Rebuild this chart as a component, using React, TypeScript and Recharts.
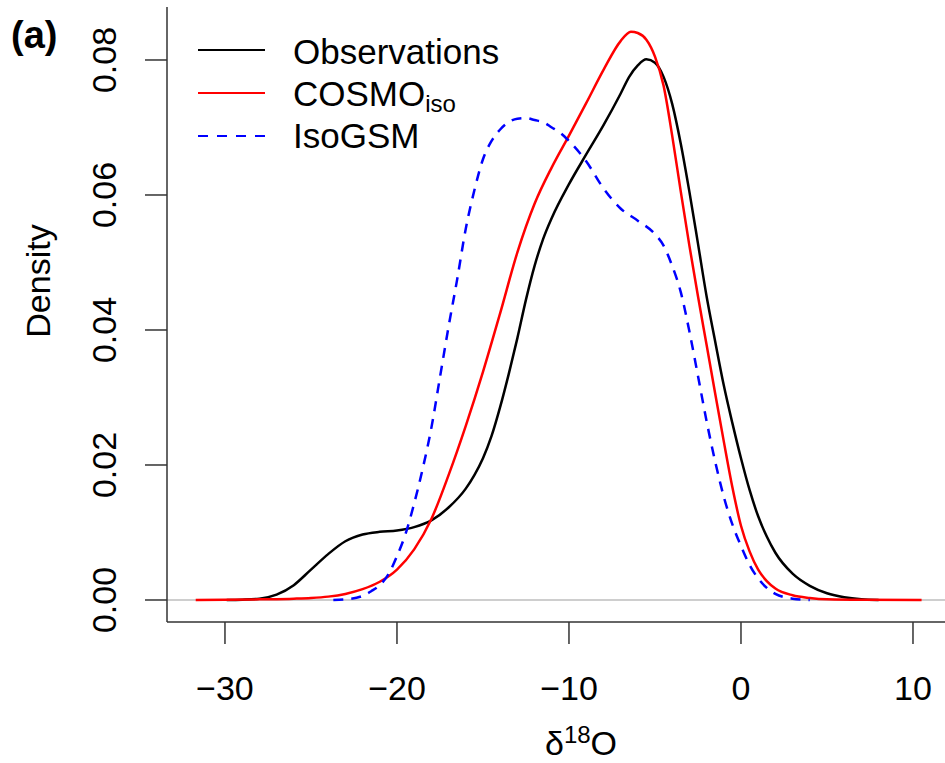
import { LineChart, Line, XAxis, YAxis, ReferenceLine } from 'recharts';

const FONT = '"Liberation Sans", Arial, Helvetica, sans-serif';

const COLORS = {
  obs: '#000000',
  cosmo: '#FF0000',
  isogsm: '#0000FF',
  frame: '#333333',
  zero: '#BEBEBE',
};

// δ18O grid + density values, one pair of lists per curve
const obsX = [-29.9, -29, -28, -27, -26, -25, -24, -23, -22, -21, -20, -19, -18, -17, -16, -15.5, -15, -14.5, -14, -13.5, -13, -12.5, -12, -11.5, -11, -10, -9, -8, -7, -6.5, -6, -5.5, -5, -4.5, -4, -3.5, -3, -2.5, -2, -1.5, -1, -0.5, 0, 0.5, 1, 1.5, 2, 3, 4, 5, 6, 7, 8];
const obsY = [0, 0.00005, 0.0002, 0.0008, 0.0022, 0.0045, 0.0068, 0.0087, 0.0097, 0.0101, 0.0103, 0.0108, 0.0118, 0.0137, 0.0165, 0.0185, 0.021, 0.0243, 0.0286, 0.0335, 0.0388, 0.0445, 0.0495, 0.0535, 0.0566, 0.0616, 0.066, 0.0703, 0.075, 0.0775, 0.0792, 0.0801, 0.0796, 0.0775, 0.0735, 0.0676, 0.0605, 0.0528, 0.045, 0.0383, 0.0318, 0.0262, 0.021, 0.0163, 0.0124, 0.0094, 0.007, 0.0039, 0.0021, 0.001, 0.0004, 0.0001, 0];

const cosmoX = [-31.7, -30, -28, -26, -25, -24, -23, -22, -21, -20, -19, -18, -17, -16, -15, -14, -13, -12, -11, -10, -9, -8, -7, -6.4, -6, -5.5, -5, -4.5, -4, -3.5, -3, -2.5, -2, -1.5, -1, -0.5, 0, 0.5, 1, 1.5, 2, 3, 4, 5, 7, 10.5];
const cosmoY = [0, 0.00002, 0.0001, 0.0002, 0.0003, 0.0005, 0.0009, 0.0016, 0.0027, 0.0045, 0.0075, 0.012, 0.0185, 0.0258, 0.0338, 0.0425, 0.0515, 0.0587, 0.0641, 0.0688, 0.0736, 0.0785, 0.0828, 0.0842, 0.084, 0.083, 0.0805, 0.0762, 0.0688, 0.0605, 0.0525, 0.045, 0.0378, 0.0306, 0.0235, 0.0167, 0.011, 0.0072, 0.0045, 0.0028, 0.0017, 0.0007, 0.0003, 0.0001, 0.00002, 0];

const isoX = [-23.7, -23, -22, -21.5, -21, -20.5, -20, -19.5, -19, -18.5, -18, -17.5, -17, -16.5, -16, -15.5, -15, -14.5, -14, -13, -12.5, -12, -11.5, -11, -10.5, -10, -9, -8, -7, -6, -5, -4.5, -4, -3.5, -3, -2.5, -2, -1.5, -1, -0.5, 0, 0.5, 1, 1.5, 2, 3, 4];
const isoY = [0, 0.0001, 0.0006, 0.0013, 0.0022, 0.0038, 0.0065, 0.0098, 0.0143, 0.0195, 0.0255, 0.033, 0.0405, 0.0475, 0.055, 0.0607, 0.0653, 0.068, 0.0697, 0.0713, 0.0714, 0.0711, 0.0708, 0.07, 0.0692, 0.068, 0.065, 0.061, 0.058, 0.0562, 0.0542, 0.0525, 0.0495, 0.0456, 0.0398, 0.0332, 0.0265, 0.0205, 0.0153, 0.0112, 0.008, 0.0052, 0.0032, 0.0018, 0.0009, 0.0002, 0];

const xTicks = [-30, -20, -10, 0, 10];
const yTicks = [0, 0.02, 0.04, 0.06, 0.08];

const legendNames = ['Observations', 'COSMO', 'IsoGSM'];
const legendSub = ['', 'iso', ''];
const legendColors = [COLORS.obs, COLORS.cosmo, COLORS.isogsm];
const legendDash = [undefined, undefined, '10 9'];

const toRows = (xs: number[], ys: number[]) => xs.map((x, i) => ({ x, d: ys[i] }));
const obsData = toRows(obsX, obsY);
const cosmoData = toRows(cosmoX, cosmoY);
const isoData = toRows(isoX, isoY);

const fmtX = (v: number) => (v < 0 ? '\u2212' + Math.abs(v) : String(v));

function XTick({ x, y, payload }: any) {
  return (
    <text x={x} y={y + 56} textAnchor="middle" fontSize={34} fontFamily={FONT} fill="#000">
      {fmtX(payload.value)}
    </text>
  );
}

function YTick({ x, y, payload }: any) {
  const bx = x - 29;
  return (
    <text x={bx} y={y} transform={`rotate(-90, ${bx}, ${y})`} textAnchor="middle" fontSize={34} fontFamily={FONT} fill="#000">
      {Number(payload.value).toFixed(2)}
    </text>
  );
}

function XTitle() {
  return (
    <text x={581} y={755} textAnchor="middle" fontSize={34} fontFamily={FONT} fill="#000">
      <tspan>δ</tspan>
      <tspan fontSize={24} dy={-12}>18</tspan>
      <tspan dy={12}>O</tspan>
    </text>
  );
}

function YTitle() {
  return (
    <text x={50} y={281} transform="rotate(-90, 50, 281)" textAnchor="middle" fontSize={34} fontFamily={FONT} fill="#000">
      Density
    </text>
  );
}

export default function App() {
  return (
    <div style={{ position: 'absolute', left: 0, top: 0, width: 945, height: 763, overflow: 'hidden', background: '#fff' }}>
      <LineChart width={960} height={763} margin={{ top: 7, right: 9, bottom: 0, left: 0 }}>
        <XAxis
          dataKey="x"
          type="number"
          domain={[-33.37, 12.21]}
          allowDataOverflow
          ticks={xTicks}
          interval={0}
          height={141}
          stroke={COLORS.frame}
          strokeWidth={1.5}
          tickSize={22}
          tickMargin={0}
          tick={<XTick />}
          label={<XTitle />}
        />
        <XAxis
          xAxisId="top"
          orientation="top"
          dataKey="x"
          type="number"
          domain={[-33.37, 12.21]}
          allowDataOverflow
          height={0}
          tick={false}
          tickLine={false}
          stroke={COLORS.frame}
          strokeWidth={1.5}
        />
        <YAxis
          type="number"
          domain={[-0.00326, 0.08785]}
          allowDataOverflow
          ticks={yTicks}
          interval={0}
          width={167}
          stroke={COLORS.frame}
          strokeWidth={1.5}
          tickSize={22}
          tickMargin={0}
          tick={<YTick />}
          label={<YTitle />}
        />
        <ReferenceLine y={0} stroke={COLORS.zero} strokeWidth={1.5} />
        <Line data={obsData} dataKey="d" type="monotone" stroke={COLORS.obs} strokeWidth={2.5} dot={false} isAnimationActive={false} />
        <Line data={cosmoData} dataKey="d" type="monotone" stroke={COLORS.cosmo} strokeWidth={2.5} dot={false} isAnimationActive={false} />
        <Line data={isoData} dataKey="d" type="monotone" stroke={COLORS.isogsm} strokeWidth={2.5} strokeDasharray="10 8" dot={false} isAnimationActive={false} />
      </LineChart>
      <svg width={945} height={763} style={{ position: 'absolute', left: 0, top: 0, pointerEvents: 'none' }}>
        <text x={11} y={48} fontSize={38} fontWeight="bold" fontFamily={FONT} fill="#000">(a)</text>
        {legendNames.map((name, i) => (
          <g key={name}>
            <line x1={198} x2={265} y1={50 + i * 43} y2={50 + i * 43} stroke={legendColors[i]} strokeWidth={2} strokeDasharray={legendDash[i]} />
            <text x={293} y={64 + i * 42} fontSize={35} fontFamily={FONT} fill="#000">
              {name}
              {legendSub[i] ? <tspan fontSize={24} dy={6}>{legendSub[i]}</tspan> : null}
            </text>
          </g>
        ))}
      </svg>
    </div>
  );
}
